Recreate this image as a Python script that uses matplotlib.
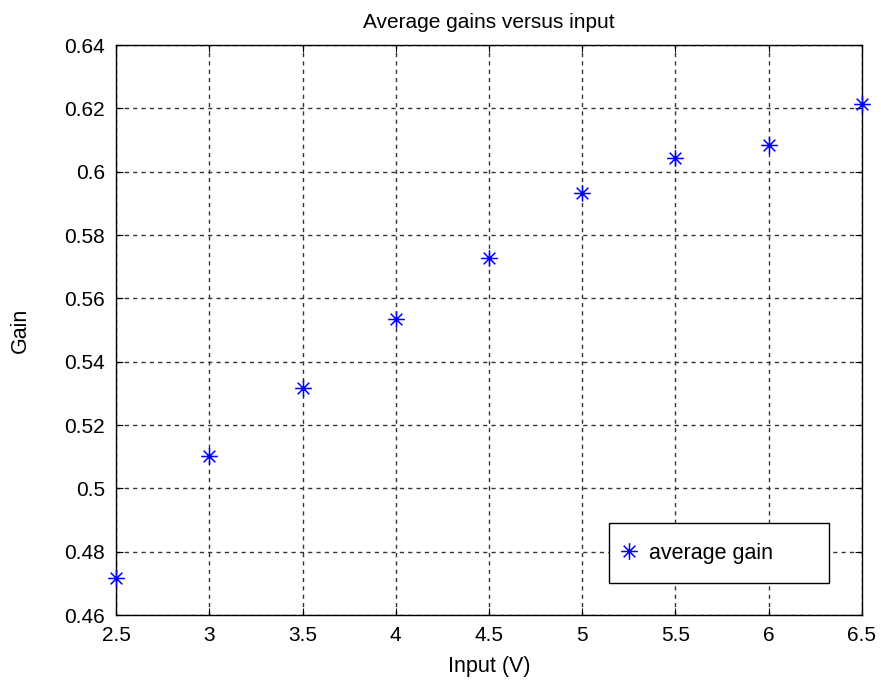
import numpy as np
import matplotlib.pyplot as plt
from matplotlib.path import Path

plt.rc('font', family=['Liberation Sans', 'DejaVu Sans'], size=15)

input_v = [2.5, 3.0, 3.5, 4.0, 4.5, 5.0, 5.5, 6.0, 6.5]
avg_gain = [0.4718, 0.5101, 0.5316, 0.5535, 0.5727, 0.5934, 0.6042, 0.6085, 0.6215]

# matlab-style asterisk: a plus and an x drawn together
d = 0.7
star = Path([(-1, 0), (1, 0), (0, -1), (0, 1), (-d, -d), (d, d), (-d, d), (d, -d)],
            [Path.MOVETO, Path.LINETO] * 4)

fig = plt.figure(figsize=(8.81, 6.81), dpi=100)
ax = fig.add_axes([0.1317, 0.0969, 0.8467, 0.837])
ax.plot(input_v, avg_gain, ls='none', marker=star, ms=12, mew=1.1,
        color='#0000ff', label='average gain', clip_on=False, zorder=4)

ax.set_xlim(2.5, 6.5)
ax.set_ylim(0.46, 0.64)
ax.set_xticks(np.arange(2.5, 6.51, 0.5))
ax.set_xticklabels(['2.5', '3', '3.5', '4', '4.5', '5', '5.5', '6', '6.5'])
ax.set_yticks(np.arange(0.46, 0.641, 0.02))
ax.set_yticklabels(['0.46', '0.48', '0.5', '0.52', '0.54', '0.56', '0.58', '0.6', '0.62', '0.64'])
ax.grid(True, color='#333333', ls=(0, (3, 3)), lw=1.0)
ax.tick_params(direction='in', length=5, top=True, right=True, labelsize=15, pad=8)
for s in ax.spines.values():
    s.set_linewidth(1.0)

ax.set_title('Average gains versus input', fontsize=15, pad=12)
ax.set_xlabel('Input (V)', fontsize=15.5, labelpad=8)
ax.set_ylabel('Gain', fontsize=15.5, labelpad=24)

# legend box stretched to the wide matlab-style frame
leg = ax.legend(loc='lower left', bbox_to_anchor=(0.6609, 0.0561, 0.2949, 0.1), mode='expand',
                fontsize=15.5, fancybox=False, edgecolor='black', framealpha=1,
                borderpad=0.9, handlelength=0.05, handletextpad=0.9, borderaxespad=0)
leg.get_frame().set_linewidth(1.0)
leg.set_zorder(5)

fig.savefig('out.png', dpi=100)
